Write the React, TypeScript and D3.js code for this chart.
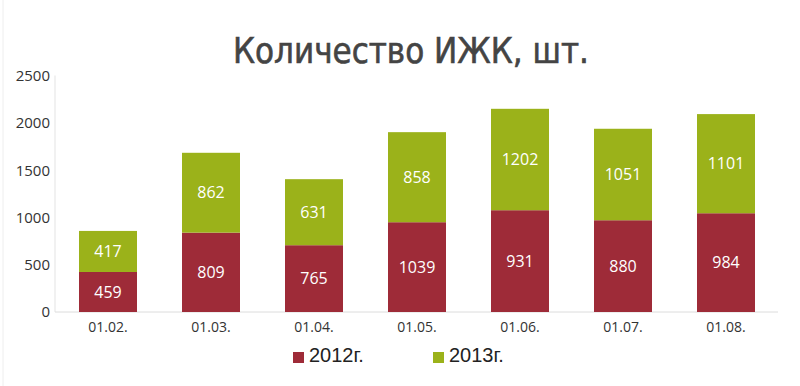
import React from "react";
import * as d3 from "d3";

const categories = ["01.02.", "01.03.", "01.04.", "01.05.", "01.06.", "01.07.", "01.08."];
// segment heights as drawn in the picture
const heights2012 = [423, 839, 706, 949, 1076, 970, 1044];
const heights2013 = [434, 844, 698, 952, 1072, 967, 1048];
// printed data labels
const labels2012 = [459, 809, 765, 1039, 931, 880, 984];
const labels2013 = [417, 862, 631, 858, 1202, 1051, 1101];
const yTicks = [0, 500, 1000, 1500, 2000, 2500];
const seriesNames = ["2012г.", "2013г."];

const W = 800;
const H = 386;
const RED = "#9e2b38";
const GREEN = "#9bb21a";

export default function App() {
  const x = d3
    .scaleBand<string>()
    .domain(categories)
    .range([56.5, 777.5])
    .paddingInner(0.437)
    .paddingOuter(0.2185);
  const y = d3.scaleLinear().domain([0, 2500]).range([312, 75.5]);
  const bw = x.bandwidth();
  const lblFont = "'Open Sans', 'Noto Sans', sans-serif";

  return (
    <svg
      width={W}
      height={H}
      style={{ position: "absolute", left: 0, top: 0, background: "#fff" }}
    >
      <rect x={0} y={0} width={W} height={H} fill="#fff" />
      <line x1={3} x2={3} y1={0} y2={H} stroke="#eeeeee" />
      <text
        x={233}
        y={63}
        fontFamily="'Liberation Sans Narrow', 'DejaVu Sans Condensed', sans-serif"
        fontSize={35}
        fill="#444"
        stroke="#444"
        strokeWidth={0.6}
        textLength={356}
        lengthAdjust="spacingAndGlyphs"
      >
        Количество ИЖК, шт.
      </text>
      {/* axes */}
      <line x1={55} x2={55} y1={y(2500)} y2={y(0)} stroke="#e3e3e3" />
      <line x1={55} x2={778} y1={y(0)} y2={y(0)} stroke="#dcdcdc" />
      {yTicks.map((t) => (
        <text
          key={t}
          x={50}
          y={y(t)}
          dy="0.36em"
          textAnchor="end"
          fontFamily={lblFont}
          fontSize={15}
          fill="#333"
        >
          {t}
        </text>
      ))}
      {categories.map((c, i) => {
        const x0 = x(c)!;
        const b0 = heights2012[i];
        const b1 = b0 + heights2013[i];
        return (
          <g key={c}>
            <rect x={x0} y={y(b0)} width={bw} height={y(0) - y(b0)} fill={RED} />
            <rect x={x0} y={y(b1)} width={bw} height={y(b0) - y(b1)} fill={GREEN} />
            <text
              x={x0 + bw / 2}
              y={y(b0 / 2)}
              dy="0.36em"
              textAnchor="middle"
              fontFamily={lblFont}
              fontSize={16}
              fill="#fff"
            >
              {labels2012[i]}
            </text>
            <text
              x={x0 + bw / 2}
              y={y((b0 + b1) / 2)}
              dy="0.36em"
              textAnchor="middle"
              fontFamily={lblFont}
              fontSize={16}
              fill="#fff"
            >
              {labels2013[i]}
            </text>
            <text
              x={x0 + bw / 2}
              y={332}
              textAnchor="middle"
              fontFamily={lblFont}
              fontSize={14}
              fill="#333"
            >
              {c}
            </text>
          </g>
        );
      })}
      {/* legend */}
      {seriesNames.map((s, i) => {
        const lx = i === 0 ? 293 : 433;
        return (
          <g key={s}>
            <rect x={lx} y={352} width={11} height={11} fill={i === 0 ? RED : GREEN} />
            <text
              x={lx + 16}
              y={362}
              fontFamily="'Liberation Sans', Arial, sans-serif"
              fontSize={20}
              fill="#222"
            >
              {s}
            </text>
          </g>
        );
      })}
    </svg>
  );
}
